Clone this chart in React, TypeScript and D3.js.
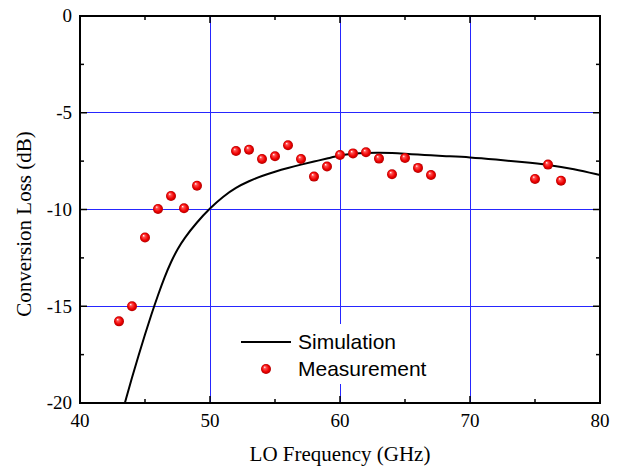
import React from 'react';
import * as d3 from 'd3';

// measurement points (GHz, dB)
const measFreq = [43, 44, 45, 46, 47, 48, 49, 52, 53, 54, 55, 56, 57, 58, 59, 60, 61, 62, 63, 64, 65, 66, 67, 75, 76, 77];
const measLoss = [-15.78, -15.0, -11.45, -9.97, -9.3, -9.94, -8.77, -6.98, -6.91, -7.39, -7.25, -6.68, -7.39, -8.3, -7.78, -7.18, -7.1, -7.04, -7.37, -8.18, -7.34, -7.85, -8.22, -8.42, -7.68, -8.51];

// simulation curve
const simFreq = [43.45, 44, 44.5, 45, 45.5, 46, 46.5, 47, 47.5, 48, 49, 50, 51, 52, 53, 54, 55, 56, 57, 58, 59, 60, 61, 62, 63, 64, 65, 66, 67, 68, 70, 72, 74, 76, 78, 80];
const simLoss = [-20, -18.68, -17.55, -16.45, -15.4, -14.42, -13.5, -12.7, -12.05, -11.5, -10.65, -9.93, -9.33, -8.86, -8.53, -8.26, -8.04, -7.85, -7.68, -7.52, -7.37, -7.2, -7.11, -7.07, -7.06, -7.08, -7.12, -7.16, -7.2, -7.24, -7.3, -7.42, -7.55, -7.68, -7.9, -8.22];

const xTicks = [40, 50, 60, 70, 80];
const yTicks = [0, -5, -10, -15, -20];
const xMinor = [45, 55, 65, 75];
const yMinor = [-2.5, -7.5, -12.5, -17.5];

const W = 619;
const H = 468;
const left = 80, right = 600, top = 16, bottom = 403;
const grid = '#2626ff';
const serif = '"Liberation Serif", "Times New Roman", serif';
const sans = '"Liberation Sans", Arial, sans-serif';

const crisp = (v: number) => Math.round(v - 0.5) + 0.5;

export default function App() {
  const x = d3.scaleLinear().domain([40, 80]).range([left, right]);
  const y = d3.scaleLinear().domain([-20, 0]).range([bottom, top]);

  const sim = simFreq.map((f, i) => [f, simLoss[i]] as [number, number]);
  const line = d3.line<[number, number]>()
    .x(d => x(d[0]))
    .y(d => y(d[1]))
    .curve(d3.curveBasis);

  const major = 7, minor = 4;

  return (
    <div style={{ position: 'absolute', left: 0, top: 0 }}>
      <svg width={W} height={H} style={{ display: 'block', background: '#fff' }}>
        <defs>
          <radialGradient id="ball" cx="0.5" cy="0.5" r="0.5" fx="0.35" fy="0.3">
            <stop offset="0" stopColor="#ffffff" />
            <stop offset="0.25" stopColor="#ff5050" />
            <stop offset="0.7" stopColor="#ee0000" />
            <stop offset="1" stopColor="#b00000" />
          </radialGradient>
          <clipPath id="plot">
            <rect x={left} y={top} width={right - left} height={bottom - top} />
          </clipPath>
        </defs>

        {/* grid */}
        {xTicks.slice(1, -1).map(t => (
          <line key={'gx' + t} x1={crisp(x(t))} x2={crisp(x(t))} y1={top} y2={bottom} stroke={grid} strokeWidth={1} />
        ))}
        {yTicks.slice(1, -1).map(t => (
          <line key={'gy' + t} x1={left} x2={right} y1={crisp(y(t))} y2={crisp(y(t))} stroke={grid} strokeWidth={1} />
        ))}

        {/* simulation */}
        <path d={line(sim) || ''} fill="none" stroke="#000" strokeWidth={2} clipPath="url(#plot)" />

        {/* measurement */}
        {measFreq.map((f, i) => (
          <circle key={'m' + i} cx={x(f)} cy={y(measLoss[i])} r={5} fill="url(#ball)" />
        ))}

        {/* legend */}
        <rect x={230} y={324} width={214} height={60} fill="#fff" />
        <line x1={241} x2={291} y1={342} y2={342} stroke="#000" strokeWidth={2} />
        <text x={298} y={349} fontFamily={sans} fontSize={21}>Simulation</text>
        <circle cx={266} cy={369} r={5} fill="url(#ball)" />
        <text x={298} y={376} fontFamily={sans} fontSize={21}>Measurement</text>

        {/* frame */}
        <rect x={left} y={top} width={right - left} height={bottom - top} fill="none" stroke="#000" strokeWidth={2} />

        {/* ticks */}
        {xTicks.map(t => (
          <g key={'tx' + t}>
            <line x1={x(t)} x2={x(t)} y1={bottom} y2={bottom - major} stroke="#000" strokeWidth={1.5} />
            <line x1={x(t)} x2={x(t)} y1={top} y2={top + major} stroke="#000" strokeWidth={1.5} />
          </g>
        ))}
        {xMinor.map(t => (
          <g key={'mx' + t}>
            <line x1={x(t)} x2={x(t)} y1={bottom} y2={bottom - minor} stroke="#000" strokeWidth={1.5} />
            <line x1={x(t)} x2={x(t)} y1={top} y2={top + minor} stroke="#000" strokeWidth={1.5} />
          </g>
        ))}
        {yTicks.map(t => (
          <g key={'ty' + t}>
            <line x1={left} x2={left + major} y1={y(t)} y2={y(t)} stroke="#000" strokeWidth={1.5} />
            <line x1={right} x2={right - major} y1={y(t)} y2={y(t)} stroke="#000" strokeWidth={1.5} />
          </g>
        ))}
        {yMinor.map(t => (
          <g key={'my' + t}>
            <line x1={left} x2={left + minor} y1={y(t)} y2={y(t)} stroke="#000" strokeWidth={1.5} />
            <line x1={right} x2={right - minor} y1={y(t)} y2={y(t)} stroke="#000" strokeWidth={1.5} />
          </g>
        ))}

        {/* tick labels */}
        {xTicks.map(t => (
          <text key={'lx' + t} x={x(t)} y={427} textAnchor="middle" fontFamily={serif} fontSize={19}>{t}</text>
        ))}
        {yTicks.map(t => (
          <text key={'ly' + t} x={72} y={y(t)} dy="0.33em" textAnchor="end" fontFamily={serif} fontSize={19}>{t}</text>
        ))}

        {/* axis titles */}
        <text x={340} y={461} textAnchor="middle" fontFamily={serif} fontSize={21}>LO Frequency (GHz)</text>
        <text transform="translate(31,224) rotate(-90)" textAnchor="middle" fontFamily={serif} fontSize={21}>Conversion Loss (dB)</text>
      </svg>
    </div>
  );
}
